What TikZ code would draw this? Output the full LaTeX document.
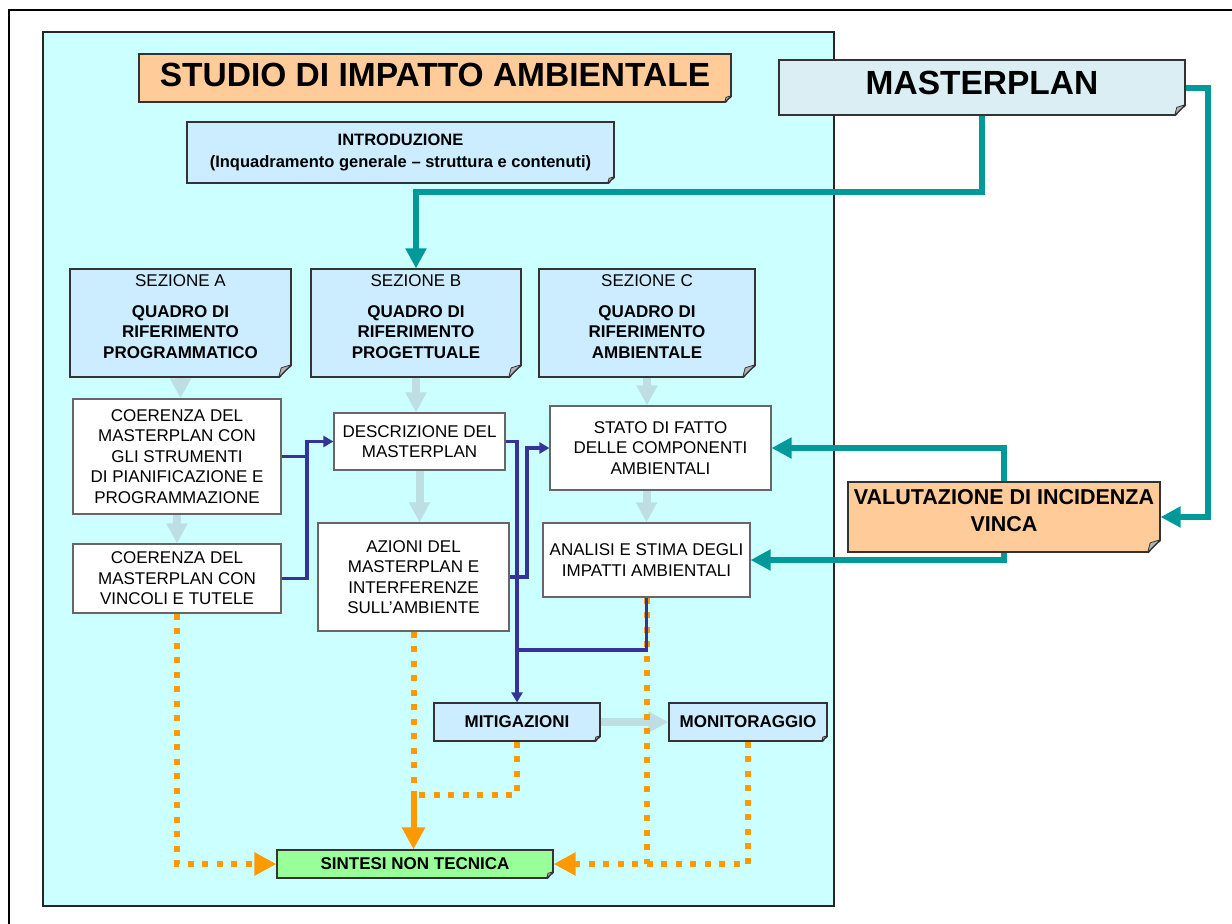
\documentclass[tikz,border=0pt]{standalone}
\usepackage{fontspec}
\setmainfont{Liberation Sans}
\usetikzlibrary{arrows.meta}
\definecolor{bgcyan}{HTML}{CCFFFF}
\definecolor{noteblue}{HTML}{CCECFF}
\definecolor{noteorange}{HTML}{FFCC99}
\definecolor{masterc}{HTML}{DAEEF3}
\definecolor{notegreen}{HTML}{99FF99}
\definecolor{tealc}{HTML}{009999}
\definecolor{bluec}{HTML}{333399}
\definecolor{grayarr}{HTML}{BDDFE4}
\definecolor{orangec}{HTML}{FF9900}
\definecolor{foldc}{HTML}{B4B4B4}
\newcommand\notefold[3]{%
  \fill[#3] ([xshift=-#2pt,yshift=-1.6pt]#1.south east) -- ([xshift=1.6pt,yshift=-1.6pt]#1.south east)
     -- ([xshift=1.6pt,yshift=#2pt]#1.south east) -- cycle;
  \filldraw[fill=foldc, draw=black!80, line width=0.8pt, line join=round]
     ([xshift=-#2pt]#1.south east) -- ([yshift=#2pt]#1.south east)
     -- ([xshift=-0.8*#2pt,yshift=0.75*#2pt]#1.south east) -- cycle;
  \draw[black!80, line width=1.2pt] ([xshift=-#2pt]#1.south east) -- ([yshift=#2pt]#1.south east);}
\tikzset{
  base/.style={inner sep=0pt, align=center, font=\fontsize{17}{20.5}\selectfont},
  wh/.style 2 args={minimum width=#1pt, minimum height=#2pt},
  note/.style={base, rectangle, draw=black!80, line width=1.2pt},
  whitebox/.style={base, rectangle, fill=white, draw=black!60, line width=1.2pt},
  garrow/.style={draw=grayarr, line width=8pt, -{Triangle[width=20pt,length=20pt]}},
  tealline/.style={draw=tealc, line width=6pt, -{Triangle[width=20pt,length=20pt]}},
  blueline/.style={draw=bluec, line width=3.5pt},
  bluetip/.style={-{Triangle[width=11pt,length=10pt]}},
  odot/.style={draw=orangec, line width=6pt, dash pattern=on 6pt off 8.5pt},
  osolid/.style={draw=orangec, line width=6pt},
  otip/.style={-{Triangle[width=22pt,length=22pt]}},
}
\begin{document}
\begin{tikzpicture}[x=1pt,y=-1pt]
\useasboundingbox (0,0) rectangle (1232,924);
% frame and background
\draw[line width=2pt] (9,924) -- (9,10) -- (1232,10);
\draw[fill=bgcyan, draw=black!85, line width=1.2pt] (43,32) rectangle (834,906);

% nodes
\node[note, fill=noteorange, wh={592}{48}, font=\fontsize{33.5}{40}\selectfont\bfseries] (title) at (435,78)
  {STUDIO DI IMPATTO AMBIENTALE\rule[-6pt]{0pt}{6pt}};
\notefold{title}{7}{bgcyan}
\node[note, fill=noteblue, wh={427}{61}, font=\fontsize{16.5}{21.5}\selectfont\bfseries] (intro) at (400.5,152.5)
  {INTRODUZIONE\\(Inquadramento generale – struttura e contenuti)};
\notefold{intro}{7}{bgcyan}
\node[note, fill=masterc, wh={406}{55}, font=\fontsize{33.5}{40}\selectfont\bfseries] (master) at (982,87.5)
  {MASTERPLAN\rule[-9pt]{0pt}{9pt}};
\notefold{master}{11}{white}

\node[note, fill=noteblue, wh={221}{108}] (secA) at (180.5,323)
  {SEZIONE A\\[10.5pt]\textbf{QUADRO DI}\\\textbf{RIFERIMENTO}\\\textbf{PROGRAMMATICO}\rule[-13pt]{0pt}{13pt}};
\notefold{secA}{13}{bgcyan}
\node[note, fill=noteblue, wh={210}{108}] (secB) at (416,323)
  {SEZIONE B\\[10.5pt]\textbf{QUADRO DI}\\\textbf{RIFERIMENTO}\\\textbf{PROGETTUALE}\rule[-13pt]{0pt}{13pt}};
\notefold{secB}{13}{bgcyan}
\node[note, fill=noteblue, wh={216}{108}] (secC) at (647,323)
  {SEZIONE C\\[10.5pt]\textbf{QUADRO DI}\\\textbf{RIFERIMENTO}\\\textbf{AMBIENTALE}\rule[-13pt]{0pt}{13pt}};
\notefold{secC}{13}{bgcyan}

\node[whitebox, wh={208}{115}] (coe1) at (177,456.5)
  {COERENZA DEL\\MASTERPLAN CON\\GLI STRUMENTI\\DI PIANIFICAZIONE E\\PROGRAMMAZIONE};
\node[whitebox, wh={208}{69}] (coe2) at (177,578.5)
  {COERENZA DEL\\MASTERPLAN CON\\VINCOLI E TUTELE};
\node[whitebox, wh={171}{57}] (desc) at (419.5,441.5)
  {DESCRIZIONE DEL\\MASTERPLAN};
\node[whitebox, wh={191}{108}] (azi) at (413.5,577)
  {AZIONI DEL\\MASTERPLAN E\\INTERFERENZE\\SULL’AMBIENTE};
\node[whitebox, wh={221}{84}] (stato) at (660.5,448)
  {STATO DI FATTO\\DELLE COMPONENTI\\AMBIENTALI};
\node[whitebox, wh={207}{74}] (anal) at (646.5,560)
  {ANALISI E STIMA DEGLI\\IMPATTI AMBIENTALI};

\node[note, fill=noteorange, wh={312}{70}, font=\fontsize{21.5}{26.7}\selectfont\bfseries] (vinca) at (1004,517)
  {VALUTAZIONE DI INCIDENZA\\VINCA\rule[-12.6pt]{0pt}{12.6pt}};
\notefold{vinca}{13}{white}
\node[note, fill=noteblue, wh={166}{38}, font=\fontsize{17}{20.5}\selectfont\bfseries] (mitig) at (517,722) {MITIGAZIONI};
\notefold{mitig}{6}{bgcyan}
\node[note, fill=noteblue, wh={158}{38}, font=\fontsize{17}{20.5}\selectfont\bfseries] (monit) at (748,722) {MONITORAGGIO};
\notefold{monit}{6}{bgcyan}
\node[note, fill=notegreen, wh={276}{28}, font=\fontsize{17}{20.5}\selectfont\bfseries] (sint) at (415,864) {SINTESI NON TECNICA};
\notefold{sint}{7}{bgcyan}

% gray flow arrows
\draw[garrow] (secA.south) -- (secA.south |- coe1.north);
\draw[garrow] (coe1.south) -- (coe2.north);
\draw[garrow] (secB.south) -- (secB.south |- desc.north);
\draw[garrow] (desc.south) -- (desc.south |- azi.north);
\draw[garrow] (secC.south) -- (secC.south |- stato.north);
\draw[garrow] (anal.north |- stato.south) -- (anal.north);
\draw[garrow] (mitig.east) -- (monit.west);

% teal connectors
\draw[tealline] (master.south) -- ++(0,76) -| (secB.north);
\draw[tealline] (master.east) -- ++(22,0) |- (vinca.east);
\draw[tealline] (vinca.north) |- (stato.east);
\draw[tealline] (vinca.south) |- (anal.east);

% orange dotted connectors
\coordinate (jo) at (413.5,795);
\draw[odot] (azi.south) -- (jo);
\draw[odot] (mitig.south) |- (jo);
\draw[osolid, otip] (jo) -- (jo |- sint.north);
\draw[odot, otip] (coe2.south) |- (sint.west);
\draw[odot, otip] (monit.south) |- (sint.east);
\draw[odot] (anal.south) -- (anal.south |- sint.east);

% blue connectors
\coordinate (jb) at (307,441.5);
\coordinate (jc) at (527,448);
\coordinate (jm) at (517,650);
\draw[blueline, bluetip] (coe2.east) -| (jb) -- (desc.west);
\draw[blueline] (coe1.east) -| (jb);
\draw[blueline, bluetip] (desc.east) -| (mitig.north);
\draw[blueline, bluetip] (azi.east) -| (jc) -- (stato.west);
\draw[blueline] (anal.south) |- (jm);
\end{tikzpicture}
\end{document}
